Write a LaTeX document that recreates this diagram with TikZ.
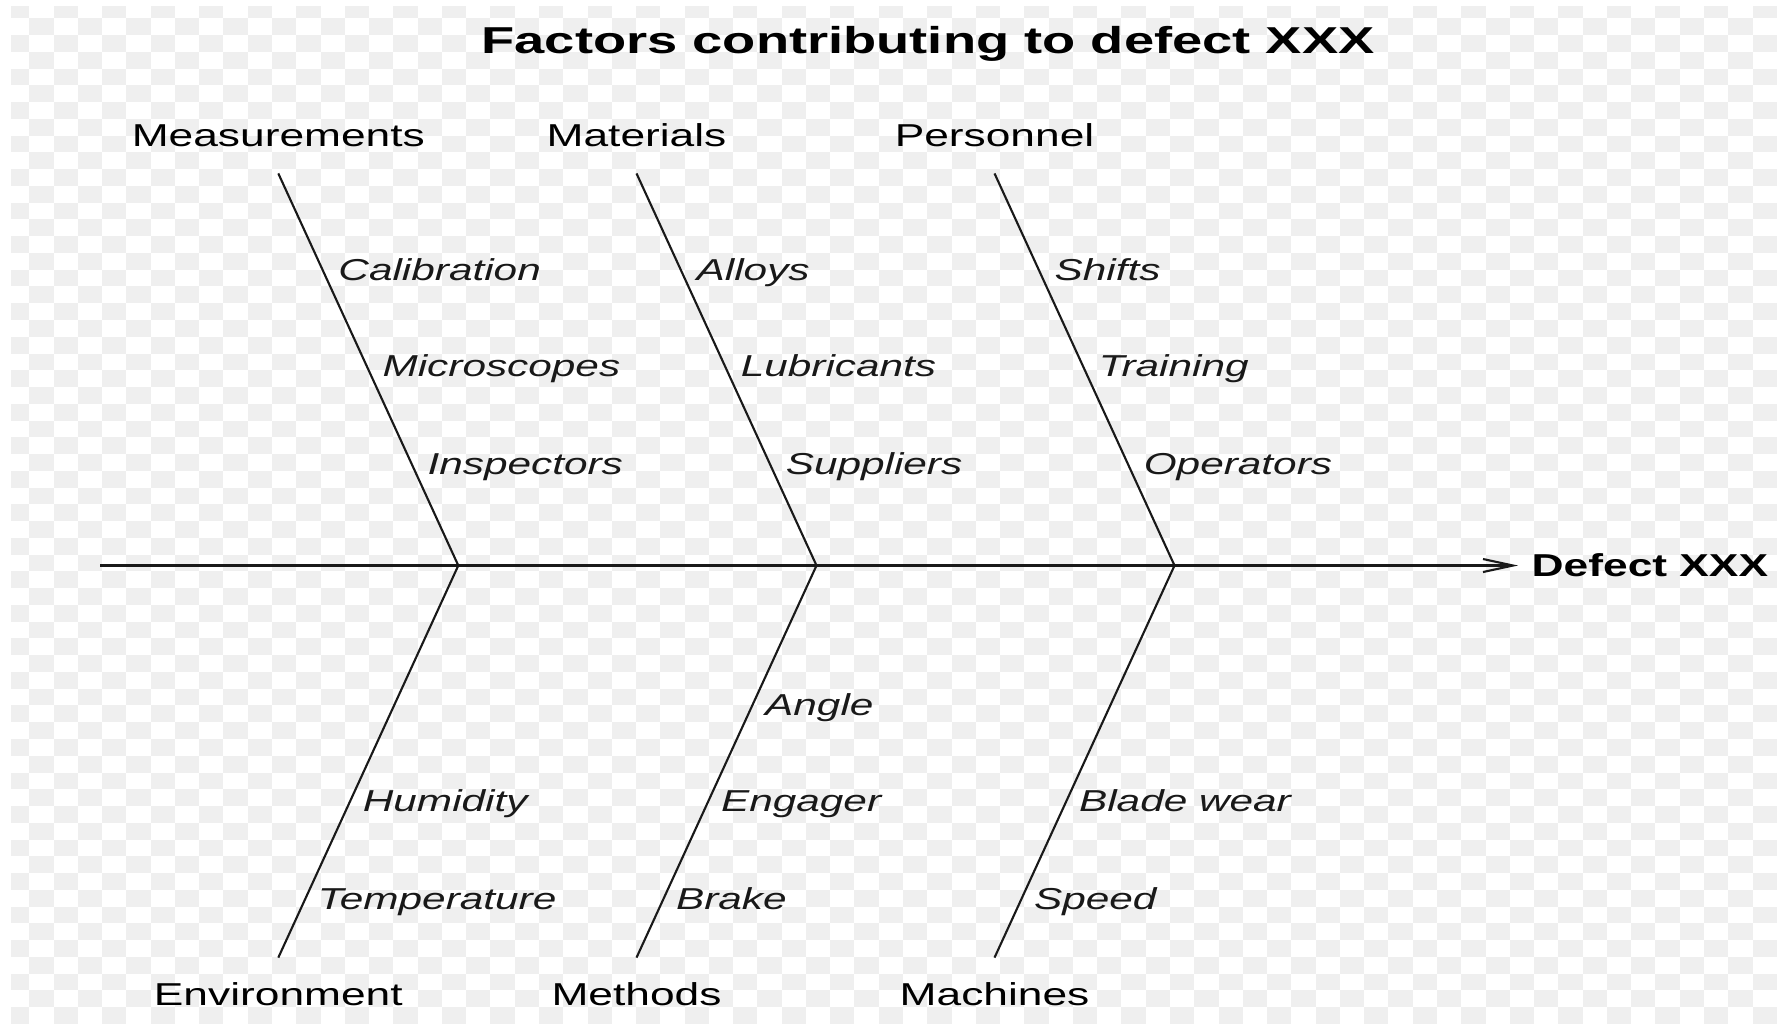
\documentclass[tikz,border=0pt]{standalone}
\usepackage{fontspec}
\setmainfont{Liberation Sans}[FakeStretch=1.4]
\newfontfamily\titlefont{Liberation Sans}[FakeStretch=1.45]
\usepackage{tikz}
\usetikzlibrary{arrows.meta}
\definecolor{checkgray}{HTML}{EFEFEF}
\tikzset{bone/.style={line width=0.6pt,black!90},
  cat/.style={anchor=base,inner sep=0pt,font=\fontsize{9pt}{11pt}\selectfont},
  itemtext/.style={anchor=west,inner sep=0pt,text height=0.22cm,text depth=0cm,font=\itshape\fontsize{8.6pt}{10pt}\selectfont},
  itemup/.style={itemtext,xshift=0.15cm},
  itemdown/.style={itemtext,xshift=0.115cm},
  effect/.style={anchor=west,inner sep=0.13cm,font=\bfseries\fontsize{9pt}{11pt}\selectfont},
  checker/.style={fill=checkgray} }

\begin{document}
\begin{tikzpicture}[x=0.01cm,y=-0.01cm]
    \useasboundingbox (0,0) rectangle (1777,1026);
    \fill[white] (0,0) rectangle (1777,1026);
    % background squares
    \begin{scope}
    \clip (11,6) rectangle (1777,1025);
    \foreach \r in {0,...,60}{
      \pgfmathtruncatemacro{\s}{mod(\r,2)}
      \pgfmathtruncatemacro{\t}{\s+2}
      \foreach \c in {\s,\t,...,72}
        \fill[checker] (5.03+24.27*\c,1.54+16.76*\r) rectangle ++(24.27,16.76);
    }
    \end{scope}
    \node[anchor=base,inner sep=0pt,font=\titlefont\bfseries\fontsize{10.65pt}{13pt}\selectfont] (title) at (928,53.3) {Factors contributing to defect XXX};
    % spine
    \coordinate (tail) at (100,565.5);
    \node[effect] (defect) at (1518,565.5) {Defect XXX};
    \draw[bone,-{Straight Barb[length=0.3cm,width=0.13cm]}] (tail) -- (defect.west);
    \coordinate (j1) at (458.3,565.5);
    \coordinate (j2) at (816.5,565.5);
    \coordinate (j3) at (1174.5,565.5);
    \coordinate (t1) at (278.3,173.4);
    \coordinate (t2) at (636.5,173.4);
    \coordinate (t3) at (994.5,173.4);
    \coordinate (b1) at (278.3,957.6);
    \coordinate (b2) at (636.5,957.6);
    \coordinate (b3) at (994.5,957.6);
    % categories
    \node[cat] (meas) at (278.3,146) {Measurements};
    \node[cat] (mat) at (636.5,146) {Materials};
    \node[cat] (pers) at (994.5,146) {Personnel};
    \node[cat] (env) at (278.3,1005) {Environment};
    \node[cat] (meth) at (636.5,1005) {Methods};
    \node[cat] (mach) at (994.5,1005) {Machines};
    % upper bones
    \draw[bone] (t1) -- (j1) node[itemup,pos=0.245] (cal) {Calibration}
      node[itemup,pos=0.49] (mic) {Microscopes} node[itemup,pos=0.74] (insp) {Inspectors};
    \draw[bone] (t2) -- (j2) node[itemup,pos=0.245] (all) {Alloys}
      node[itemup,pos=0.49] (lub) {Lubricants} node[itemup,pos=0.74] (sup) {Suppliers};
    \draw[bone] (t3) -- (j3) node[itemup,pos=0.245] (shi) {Shifts}
      node[itemup,pos=0.49] (tra) {Training} node[itemup,pos=0.74] (ope) {Operators};
    % lower bones
    \draw[bone] (j1) -- (b1) node[itemdown,pos=0.60] (hum) {Humidity}
      node[itemdown,pos=0.85] (temp) {Temperature};
    \draw[bone] (j2) -- (b2) node[itemdown,pos=0.355] (ang) {Angle}
      node[itemdown,pos=0.60] (eng) {Engager} node[itemdown,pos=0.85] (bra) {Brake};
    \draw[bone] (j3) -- (b3) node[itemdown,pos=0.60] (bla) {Blade wear}
      node[itemdown,pos=0.85] (spe) {Speed};
\end{tikzpicture}
\end{document}
